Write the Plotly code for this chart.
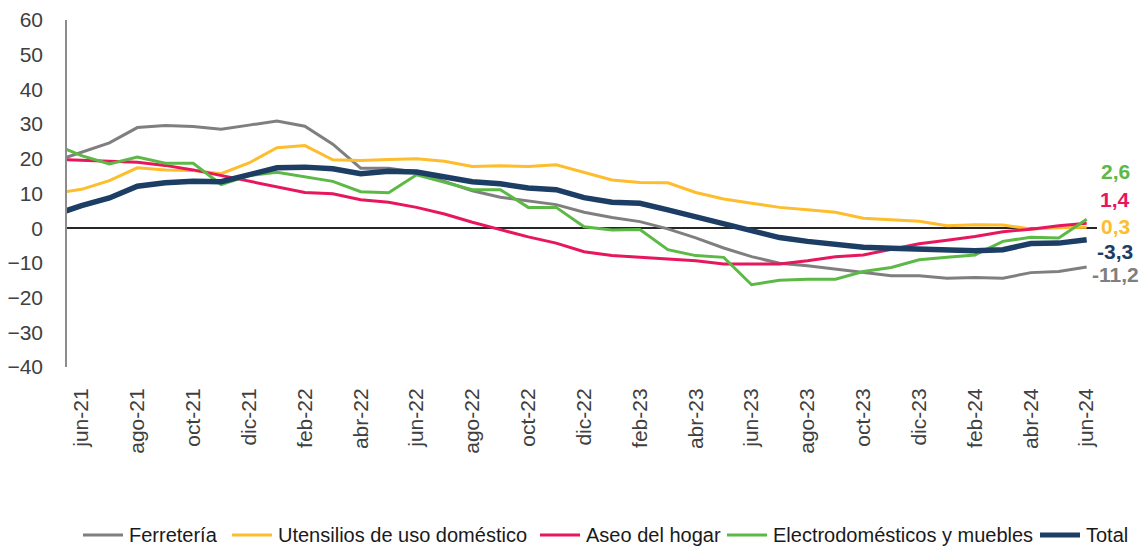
import plotly.graph_objects as go

months = ["may-21", "jun-21", "jul-21", "ago-21", "sep-21", "oct-21", "nov-21", "dic-21",
          "ene-22", "feb-22", "mar-22", "abr-22", "may-22", "jun-22", "jul-22", "ago-22",
          "sep-22", "oct-22", "nov-22", "dic-22", "ene-23", "feb-23", "mar-23", "abr-23",
          "may-23", "jun-23", "jul-23", "ago-23", "sep-23", "oct-23", "nov-23", "dic-23",
          "ene-24", "feb-24", "mar-24", "abr-24", "may-24", "jun-24"]

ferreteria = [19.2, 21.9, 24.6, 29.0, 29.6, 29.3, 28.5, 29.7, 30.9, 29.4, 24.2, 17.3, 17.3,
              16.1, 13.4, 10.8, 8.9, 7.9, 6.8, 4.6, 3.1, 1.9, -0.2, -2.8, -5.7, -8.2, -10.1,
              -10.8, -11.8, -12.8, -13.7, -13.7, -14.4, -14.2, -14.4, -12.8, -12.5, -11.2]
utensilios = [10.0, 11.2, 13.7, 17.4, 16.8, 16.6, 15.7, 18.8, 23.2, 23.8, 19.7, 19.5, 19.8,
              20.0, 19.3, 17.8, 18.0, 17.8, 18.3, 16.0, 13.9, 13.2, 13.1, 10.3, 8.4, 7.2, 6.0,
              5.3, 4.6, 2.9, 2.4, 2.0, 0.7, 1.0, 0.9, -0.2, 0.1, 0.3]
aseo = [19.9, 19.7, 19.3, 19.0, 18.1, 16.8, 15.2, 13.7, 12.0, 10.3, 9.9, 8.2, 7.5,
        6.0, 4.1, 1.7, -0.4, -2.5, -4.3, -6.8, -7.9, -8.4, -8.9, -9.4, -10.3, -10.3, -10.3,
        -9.4, -8.2, -7.7, -6.2, -4.5, -3.5, -2.4, -1.0, -0.3, 0.7, 1.4]
electro = [24.2, 20.9, 18.5, 20.5, 18.7, 18.7, 12.6, 15.2, 16.1, 14.7, 13.5, 10.5, 10.2,
           15.4, 13.2, 11.1, 11.1, 6.0, 6.0, 0.4, -0.5, -0.4, -6.2, -7.9, -8.4, -16.3, -15.0,
           -14.7, -14.7, -12.5, -11.3, -9.1, -8.4, -7.7, -3.8, -2.6, -2.8, 2.6]
total = [3.8, 6.5, 8.7, 12.1, 13.1, 13.5, 13.4, 15.5, 17.4, 17.6, 17.1, 15.7, 16.4,
         16.2, 14.9, 13.4, 12.8, 11.6, 11.1, 8.8, 7.5, 7.2, 5.3, 3.3, 1.0, -1.1, -2.7,
         -3.8, -4.8, -5.5, -5.8, -6.0, -6.3, -6.5, -6.2, -4.4, -4.3, -3.3]

tick_labels = months[1::2]
y_ticks = [-40, -30, -20, -10, 0, 10, 20, 30, 40, 50, 60]

series = [
    ("Ferretería", ferreteria, "#7f7f7f", 3),
    ("Utensilios de uso doméstico", utensilios, "#fdbd2c", 3),
    ("Aseo del hogar", aseo, "#e8175d", 3),
    ("Electrodomésticos y muebles", electro, "#5cb946", 3),
    ("Total", total, "#1c3d64", 5.5),
]
# vertical pixel offsets of the end labels relative to their last value
label_shift = [-7, 1, 23.5, 48, -11.5]

W, H = 1141, 548
ML, MR, MT, MB = 67, 44, 20, 181
PW, PH = W - ML - MR, H - MT - MB


def px_x(px):
    return (px - ML) / PW


def px_y(py):
    return (H - MB - py) / PH


fig = go.Figure()
for name, vals, color, w in series:
    fig.add_trace(go.Scatter(x=months, y=vals, mode="lines", name=name,
                             line=dict(color=color, width=w), showlegend=False))

for (name, vals, color, w), dy in zip(series, label_shift):
    fig.add_annotation(x=px_x(1115), xref="paper", y=vals[-1], yref="y", yshift=dy,
                       text="<b>" + f"{vals[-1]:.1f}".replace(".", ",") + "</b>",
                       showarrow=False, xanchor="center", yanchor="middle",
                       font=dict(family="Liberation Sans, Arial, sans-serif", size=21, color=color))

# custom legend (sample line + label)
legend_x = [83, 232, 540, 727, 1040]
legend_y = 535
for (name, vals, color, w), lx in zip(series, legend_x):
    fig.add_shape(type="line", xref="paper", yref="paper",
                  x0=px_x(lx), x1=px_x(lx + 40), y0=px_y(legend_y), y1=px_y(legend_y),
                  line=dict(color=color, width=w if w < 5 else 5))
    fig.add_annotation(x=px_x(lx + 44), xref="paper", y=px_y(legend_y), yref="paper",
                       text=name, showarrow=False, xanchor="left", yanchor="middle",
                       font=dict(family="Liberation Sans, Arial, sans-serif", size=20, color="#1a1a1a"))

fig.update_layout(
    width=W, height=H, autosize=False,
    margin=dict(l=ML, r=MR, t=MT, b=MB),
    paper_bgcolor="white", plot_bgcolor="white",
    showlegend=False,
    xaxis=dict(type="category", categoryorder="array", categoryarray=months,
               range=[0.481, 37.37], showgrid=False, showline=False, zeroline=False,
               automargin=False,
               tickmode="array", tickvals=tick_labels, ticktext=tick_labels,
               tickangle=-90, ticks="outside", ticklen=12, tickcolor="rgba(0,0,0,0)",
               tickfont=dict(family="Liberation Sans, Arial, sans-serif", size=21, color="#404040")),
    yaxis=dict(range=[-40, 60], tickmode="array", tickvals=y_ticks, showgrid=False,
               automargin=False,
               showline=True, linecolor="#8c8c8c", linewidth=1.5,
               zeroline=True, zerolinecolor="#262626", zerolinewidth=2,
               ticks="outside", ticklen=18, tickcolor="rgba(0,0,0,0)",
               tickfont=dict(family="Liberation Sans, Arial, sans-serif", size=21, color="#404040")),
)

fig.write_html("out.html", config={"displayModeBar": False},
               post_script="document.body.style.margin='0';document.body.style.overflow='hidden';")
